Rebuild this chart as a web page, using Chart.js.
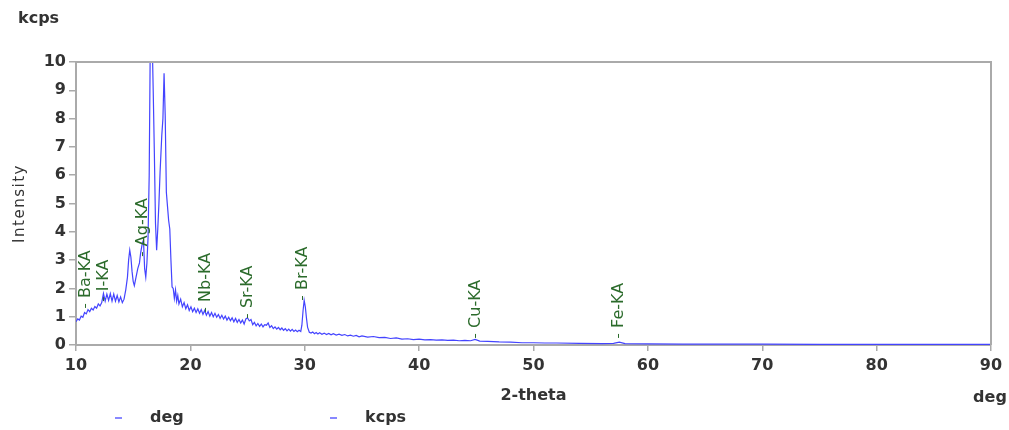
<!DOCTYPE html>
<html>
<head>
<meta charset="utf-8">
<script src="https://cdn.jsdelivr.net/npm/chart.js@4/dist/chart.umd.min.js"></script>
<style>
  html, body { margin:0; padding:0; background:#fff; }
  #wrap { width:1009px; height:430px; }
</style>
</head>
<body>
<div id="wrap"><canvas id="spec" width="1009" height="430"></canvas></div>
<script>
// XRF scan — intensity vs 2-theta
const degs = [10.0,10.15,10.3,10.45,10.6,10.75,10.9,11.05,11.2,11.35,11.5,11.65,11.8,11.95,12.1,12.25,12.4,12.55,12.7,12.85,
  13.0,13.15,13.3,13.45,13.6,13.75,13.9,14.05,14.2,14.35,14.5,14.6,14.7,14.8,14.9,15.0,15.1,15.25,15.4,15.55,
  15.65,15.8,15.9,16.0,16.1,16.2,16.3,16.4,16.5,16.65,16.75,16.85,16.95,17.05,17.15,17.25,17.35,17.5,17.6,17.7,
  17.8,17.9,18.0,18.1,18.2,18.3,18.4,18.5,18.6,18.7,18.8,18.9,19.0,19.15,19.3,19.45,19.6,19.75,19.9,20.05,
  20.2,20.35,20.5,20.65,20.8,20.95,21.1,21.25,21.4,21.55,21.7,21.85,22.0,22.15,22.3,22.45,22.6,22.75,22.9,23.05,
  23.2,23.35,23.5,23.65,23.8,23.95,24.1,24.25,24.4,24.55,24.7,24.85,25.0,25.15,25.3,25.45,25.6,25.75,25.9,26.05,
  26.2,26.35,26.5,26.65,26.8,26.95,27.1,27.25,27.4,27.55,27.7,27.85,28.0,28.15,28.3,28.45,28.6,28.75,28.9,29.05,
  29.2,29.35,29.5,29.65,29.75,29.85,29.95,30.05,30.15,30.25,30.4,30.55,30.7,30.85,31.0,31.15,31.3,31.5,31.7,31.9,
  32.1,32.3,32.5,32.75,33.0,33.25,33.5,33.75,34.0,34.25,34.5,34.75,35.0,35.5,36.0,36.5,37.0,37.5,38.0,38.5,
  39.0,39.5,40.0,40.5,41.0,41.5,42.0,42.5,43.0,43.5,44.0,44.5,44.9,45.3,46.0,47.0,48.0,49.0,50.0,51.0,
  52.0,54.0,56.0,57.0,57.5,58.0,60.0,63.0,66.0,70.0,75.0,80.0,85.0,90.0];
const kcps = [0.82,0.92,0.88,1.02,0.98,1.15,1.10,1.25,1.18,1.30,1.24,1.36,1.30,1.45,1.38,1.50,1.82,1.55,1.80,1.58,
  1.82,1.55,1.80,1.55,1.75,1.52,1.70,1.50,1.62,1.95,2.40,3.00,3.35,3.10,2.60,2.25,2.10,2.40,2.70,2.90,
  3.25,3.60,3.70,2.70,2.40,2.90,3.80,6.00,11.0,11.0,9.00,6.80,4.30,3.35,4.10,5.00,6.10,7.40,8.00,9.60,
  8.10,5.40,4.90,4.40,4.10,3.00,2.05,2.00,1.65,1.95,1.55,1.75,1.45,1.62,1.35,1.50,1.28,1.42,1.22,1.35,
  1.18,1.30,1.15,1.28,1.12,1.25,1.08,1.22,1.05,1.18,1.02,1.15,1.00,1.12,0.98,1.08,0.94,1.05,0.92,1.02,
  0.88,0.98,0.86,0.96,0.82,0.94,0.80,0.90,0.78,0.88,0.74,0.92,0.96,0.85,0.90,0.72,0.80,0.68,0.76,0.66,
  0.74,0.64,0.72,0.70,0.78,0.62,0.68,0.58,0.64,0.56,0.62,0.54,0.60,0.52,0.58,0.50,0.56,0.49,0.55,0.48,
  0.53,0.47,0.52,0.48,0.70,1.20,1.58,1.35,0.95,0.62,0.45,0.42,0.46,0.40,0.44,0.39,0.43,0.38,0.42,0.37,
  0.41,0.36,0.40,0.35,0.38,0.34,0.37,0.32,0.35,0.31,0.34,0.29,0.32,0.28,0.30,0.26,0.27,0.23,0.25,0.21,
  0.22,0.19,0.21,0.18,0.19,0.17,0.18,0.16,0.17,0.15,0.16,0.15,0.20,0.14,0.13,0.11,0.10,0.08,0.08,0.07,
  0.07,0.06,0.05,0.06,0.10,0.05,0.04,0.03,0.03,0.03,0.02,0.02,0.02,0.02];

// element line markers: name, 2-theta, intensity level of the marker tick
const peakNames = ['Ba-KA','I-KA','Ag-KA','Nb-KA','Sr-KA','Br-KA','Cu-KA','Fe-KA'];
const peakDegs  = [10.8, 12.4, 15.8, 21.3, 24.95, 29.8, 44.9, 57.4];
const peakLevel = [1.31, 1.55, 3.14, 1.17, 0.95, 1.59, 0.25, 0.25];

const legendNames = ['deg','kcps'];

const LINE = '#4444ff';
const AXIS = '#aaaaaa';
const TXT = '#333';
const GREEN = '#2b6b2b';
const FONT = 'DejaVu Sans, Verdana, sans-serif';

const points = degs.map((d, i) => ({x: d, y: kcps[i]}));

const decor = {
  id: 'decor',
  afterDraw(chart){
    const {ctx, chartArea: a, scales: {x, y}} = chart;
    ctx.save();
    // frame top + right
    ctx.strokeStyle = AXIS; ctx.lineWidth = 2;
    ctx.beginPath();
    ctx.moveTo(a.left, a.top); ctx.lineTo(a.right, a.top); ctx.lineTo(a.right, a.bottom);
    ctx.stroke();

    // unit labels and axis titles
    ctx.fillStyle = TXT;
    ctx.font = `bold 16px ${FONT}`;
    ctx.textBaseline = 'middle';
    ctx.textAlign = 'left';
    ctx.fillText('kcps', 18, 19);
    ctx.textAlign = 'center';
    ctx.fillText('2-theta', (a.left + a.right)/2, 396);
    ctx.fillText('deg', 990, 398);

    ctx.save();
    ctx.translate(20, (a.top + a.bottom)/2);
    ctx.rotate(-Math.PI/2);
    ctx.font = `15px ${FONT}`;
    ctx.letterSpacing = '1.5px';
    ctx.fillText('Intensity', 0, 0);
    ctx.restore();

    // peak markers
    ctx.font = `16px ${FONT}`;
    ctx.fillStyle = GREEN; ctx.strokeStyle = GREEN; ctx.lineWidth = 1;
    peakNames.forEach((name, i) => {
      const px = Math.round(x.getPixelForValue(peakDegs[i])) + 0.5;
      const py = y.getPixelForValue(peakLevel[i]);
      ctx.beginPath(); ctx.moveTo(px, py); ctx.lineTo(px, py - 4); ctx.stroke();
      ctx.save();
      ctx.translate(px, py - 10);
      ctx.rotate(-Math.PI/2);
      ctx.textAlign = 'left'; ctx.textBaseline = 'middle';
      ctx.fillText(name, 0, 0);
      ctx.restore();
    });

    // legend
    const lx = [115, 330];
    ctx.font = `bold 16px ${FONT}`;
    ctx.textAlign = 'left'; ctx.textBaseline = 'middle';
    legendNames.forEach((n, i) => {
      ctx.strokeStyle = '#8888ff'; ctx.lineWidth = 2;
      ctx.beginPath(); ctx.moveTo(lx[i], 418); ctx.lineTo(lx[i] + 7, 418); ctx.stroke();
      ctx.fillStyle = TXT;
      ctx.fillText(n, lx[i] + 35, 418);
    });
    ctx.restore();
  }
};

Chart.defaults.font.family = FONT;

new Chart(document.getElementById('spec'), {
  type: 'line',
  data: { datasets: [{
    label: 'kcps', data: points,
    borderColor: LINE, borderWidth: 1.2, pointRadius: 0, tension: 0, fill: false,
  }]},
  options: {
    responsive: false, animation: false, devicePixelRatio: 1,
    layout: { padding: { left: 0, right: 18, top: 62, bottom: 0 } },
    plugins: { legend: { display: false }, tooltip: { enabled: false } },
    scales: {
      x: {
        type: 'linear', min: 10, max: 90,
        ticks: { stepSize: 10, color: TXT, font: { size: 16, weight: 'bold' }, padding: 5, maxRotation: 0 },
        grid: { drawOnChartArea: false, tickLength: 6, color: AXIS, lineWidth: 1.5 },
        border: { color: AXIS, width: 2 },
        afterFit: (s) => { s.height = 85; },
      },
      y: {
        min: 0, max: 10,
        ticks: { stepSize: 1, color: TXT, font: { size: 16, weight: 'bold' }, padding: 3 },
        grid: { drawOnChartArea: false, tickLength: 7, color: AXIS, lineWidth: 1.5 },
        border: { color: AXIS, width: 2 },
        afterFit: (s) => { s.width = 76; },
      }
    }
  },
  plugins: [decor]
});
</script>
</body>
</html>
